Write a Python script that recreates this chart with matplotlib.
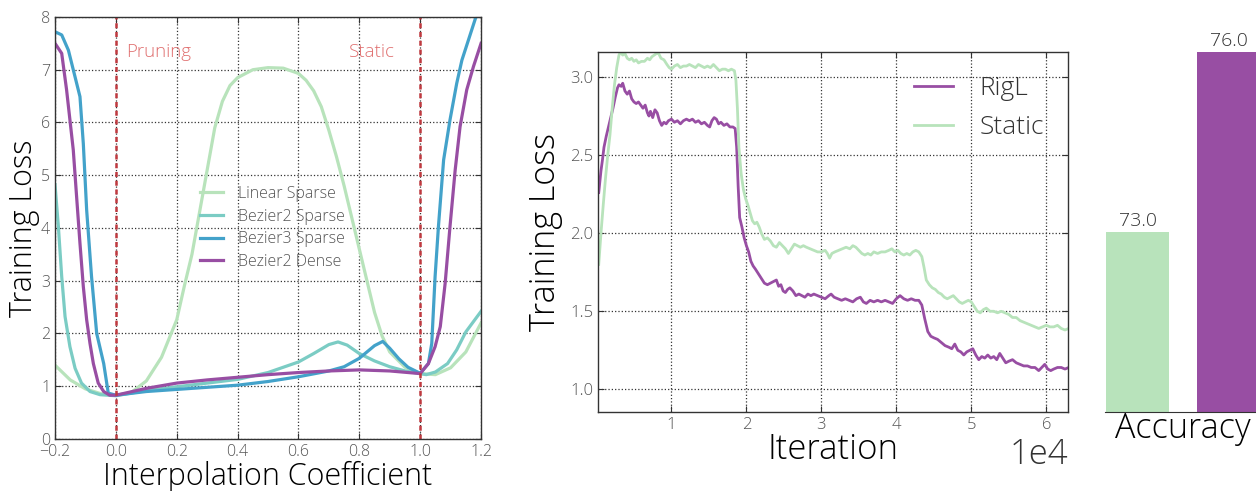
import matplotlib as mpl
mpl.use('Agg')
import matplotlib.pyplot as plt
import numpy as np

# ---- left panel: loss along interpolation paths ----
lin_x = [-0.2, -0.15, -0.1, -0.05, 0.0, 0.05, 0.1, 0.15, 0.2, 0.225, 0.25, 0.275, 0.3, 0.325, 0.35, 0.375, 0.4,
         0.45, 0.5, 0.55, 0.6, 0.625, 0.65, 0.675, 0.7, 0.725, 0.75, 0.775, 0.8, 0.825, 0.85, 0.875, 0.9, 0.95,
         1.0, 1.05, 1.1, 1.15, 1.2]
lin_y = [1.40, 1.12, 0.95, 0.86, 0.83, 0.88, 1.10, 1.55, 2.26, 2.9, 3.5, 4.3, 5.1, 5.9, 6.4, 6.7, 6.85,
         7.0, 7.04, 7.03, 6.93, 6.8, 6.6, 6.3, 5.85, 5.35, 4.8, 4.2, 3.6, 3.0, 2.4, 1.95, 1.65, 1.36,
         1.24, 1.22, 1.35, 1.65, 2.2]

bz2_x = [-0.2, -0.189, -0.178, -0.167, -0.151, -0.134, -0.113, -0.085, -0.052, 0.0, 0.1, 0.2, 0.3, 0.4, 0.5,
         0.6, 0.65, 0.7, 0.73, 0.76, 0.8, 0.85, 0.9, 0.95, 1.0, 1.02, 1.05, 1.09, 1.12, 1.15, 1.2]
bz2_y = [4.82, 4.03, 3.08, 2.32, 1.75, 1.34, 1.06, 0.90, 0.84, 0.82, 0.92, 0.99, 1.06, 1.13, 1.26,
         1.46, 1.62, 1.79, 1.84, 1.78, 1.62, 1.48, 1.37, 1.29, 1.24, 1.22, 1.27, 1.43, 1.69, 2.03, 2.42]

bz3_x = [-0.2, -0.178, -0.156, -0.14, -0.118, -0.107, -0.096, -0.08, -0.063, -0.04, -0.025, 0.0, 0.1, 0.2,
         0.3, 0.4, 0.5, 0.6, 0.7, 0.75, 0.8, 0.85, 0.877, 0.9, 0.93, 0.96, 1.0, 1.027, 1.038, 1.049, 1.06,
         1.077, 1.098, 1.12, 1.137, 1.164, 1.2]
bz3_y = [7.72, 7.66, 7.37, 7.0, 6.49, 5.6, 4.34, 3.08, 2.0, 1.43, 0.87, 0.83, 0.90, 0.94,
         0.98, 1.02, 1.09, 1.18, 1.29, 1.37, 1.53, 1.77, 1.85, 1.72, 1.52, 1.36, 1.245, 1.43, 1.81, 3.08, 4.03,
         5.29, 6.05, 6.74, 7.18, 7.66, 8.3]

dense_x = [-0.2, -0.178, -0.162, -0.151, -0.14, -0.129, -0.118, -0.107, -0.096, -0.085, -0.074, -0.058, -0.04,
           -0.02, 0.0, 0.1, 0.2, 0.3, 0.4, 0.5, 0.6, 0.7, 0.8, 0.9, 1.0, 1.027, 1.049, 1.066, 1.082, 1.098,
           1.115, 1.131, 1.153, 1.175, 1.2]
dense_y = [7.5, 7.31, 6.62, 6.05, 5.48, 4.59, 3.71, 2.89, 2.26, 1.81, 1.43, 1.06, 0.90,
           0.83, 0.83, 0.96, 1.06, 1.12, 1.17, 1.22, 1.26, 1.29, 1.31, 1.29, 1.24, 1.43, 1.75, 2.13, 2.95, 4.03,
           5.10, 5.92, 6.62, 7.06, 7.5]

# ---- middle panel: training loss (x in units of 1e4 iterations) ----
rigl_it = [0.03, 0.06, 0.08, 0.10, 0.13, 0.16, 0.19, 0.22, 0.25, 0.28, 0.30, 0.33, 0.35, 0.38, 0.41, 0.44, 0.47,
           0.50, 0.53, 0.56, 0.59, 0.62, 0.65, 0.68, 0.70, 0.72, 0.75, 0.78, 0.81, 0.84, 0.87, 0.90, 0.93, 0.96,
           1.00, 1.04, 1.08, 1.12, 1.16, 1.20, 1.24, 1.28, 1.32, 1.36, 1.40, 1.44, 1.48, 1.51, 1.54, 1.57, 1.60,
           1.63, 1.66, 1.70, 1.74, 1.78, 1.82, 1.85, 1.87, 1.89, 1.91, 1.94, 1.97, 2.00, 2.03, 2.06, 2.09, 2.12,
           2.16, 2.20, 2.24, 2.28, 2.32, 2.36, 2.40, 2.43, 2.46, 2.49, 2.52, 2.55, 2.58, 2.62, 2.66, 2.70, 2.74,
           2.78, 2.82, 2.86, 2.90, 2.95, 3.00, 3.05, 3.10, 3.13, 3.17, 3.22, 3.27, 3.32, 3.37, 3.42, 3.47, 3.52,
           3.56, 3.60, 3.65, 3.70, 3.75, 3.80, 3.85, 3.90, 3.95, 4.00, 4.05, 4.10, 4.15, 4.20, 4.25, 4.30, 4.34,
           4.38, 4.42, 4.46, 4.50, 4.55, 4.60, 4.65, 4.70, 4.74, 4.78, 4.82, 4.86, 4.90, 4.94, 4.98, 5.02, 5.06,
           5.10, 5.14, 5.18, 5.22, 5.26, 5.30, 5.34, 5.38, 5.42, 5.46, 5.50, 5.55, 5.60, 5.65, 5.70, 5.75, 5.80,
           5.85, 5.90, 5.94, 5.98, 6.02, 6.06, 6.10, 6.15, 6.20, 6.25, 6.30]
rigl_loss = [2.26, 2.40, 2.47, 2.55, 2.62, 2.68, 2.74, 2.80, 2.87, 2.93, 2.95, 2.94, 2.96, 2.91, 2.89, 2.91, 2.86,
             2.84, 2.83, 2.84, 2.82, 2.80, 2.82, 2.77, 2.75, 2.78, 2.74, 2.79, 2.77, 2.72, 2.69, 2.71, 2.70, 2.72,
             2.73, 2.71, 2.72, 2.70, 2.72, 2.73, 2.72, 2.73, 2.71, 2.72, 2.70, 2.71, 2.69, 2.68, 2.72, 2.74, 2.73,
             2.70, 2.71, 2.69, 2.70, 2.68, 2.68, 2.67, 2.55, 2.30, 2.10, 2.04, 1.97, 1.92, 1.88, 1.82, 1.79, 1.77,
             1.74, 1.71, 1.68, 1.67, 1.68, 1.69, 1.70, 1.66, 1.67, 1.63, 1.62, 1.64, 1.65, 1.63, 1.60, 1.61, 1.60,
             1.59, 1.61, 1.60, 1.61, 1.60, 1.59, 1.58, 1.60, 1.61, 1.59, 1.58, 1.57, 1.58, 1.57, 1.56, 1.58, 1.59,
             1.56, 1.55, 1.57, 1.56, 1.57, 1.56, 1.57, 1.56, 1.55, 1.58, 1.60, 1.58, 1.57, 1.58, 1.57, 1.57, 1.54,
             1.45, 1.37, 1.34, 1.33, 1.32, 1.30, 1.28, 1.27, 1.26, 1.29, 1.25, 1.24, 1.22, 1.24, 1.25, 1.26, 1.22,
             1.19, 1.21, 1.20, 1.22, 1.20, 1.21, 1.19, 1.23, 1.20, 1.17, 1.18, 1.19, 1.17, 1.16, 1.15, 1.15, 1.14,
             1.14, 1.12, 1.14, 1.16, 1.13, 1.12, 1.13, 1.14, 1.14, 1.13, 1.14]

static_it = [0.03, 0.06, 0.09, 0.12, 0.15, 0.18, 0.21, 0.24, 0.27, 0.30, 0.32, 0.35, 0.38, 0.41, 0.44, 0.47, 0.50,
             0.53, 0.56, 0.60, 0.64, 0.68, 0.71, 0.74, 0.77, 0.80, 0.83, 0.86, 0.90, 0.94, 0.97, 1.00, 1.04, 1.08,
             1.12, 1.16, 1.20, 1.24, 1.28, 1.32, 1.36, 1.40, 1.44, 1.48, 1.52, 1.56, 1.60, 1.64, 1.68, 1.72, 1.76,
             1.80, 1.84, 1.86, 1.88, 1.90, 1.93, 1.96, 1.99, 2.02, 2.05, 2.08, 2.11, 2.14, 2.17, 2.20, 2.24, 2.28,
             2.32, 2.36, 2.40, 2.44, 2.48, 2.52, 2.56, 2.60, 2.64, 2.68, 2.72, 2.76, 2.80, 2.85, 2.90, 2.95, 3.00,
             3.05, 3.08, 3.11, 3.14, 3.18, 3.23, 3.28, 3.33, 3.38, 3.42, 3.46, 3.50, 3.54, 3.58, 3.62, 3.66, 3.70,
             3.75, 3.80, 3.85, 3.90, 3.94, 3.98, 4.02, 4.06, 4.10, 4.14, 4.18, 4.22, 4.26, 4.30, 4.34, 4.37, 4.40,
             4.44, 4.48, 4.52, 4.56, 4.60, 4.64, 4.68, 4.72, 4.76, 4.80, 4.84, 4.88, 4.92, 4.96, 5.00, 5.04, 5.08,
             5.12, 5.16, 5.20, 5.25, 5.30, 5.35, 5.40, 5.45, 5.50, 5.55, 5.60, 5.65, 5.70, 5.75, 5.80, 5.85, 5.90,
             5.95, 6.00, 6.05, 6.10, 6.15, 6.20, 6.25, 6.30]
static_loss = [1.80, 2.00, 2.18, 2.35, 2.50, 2.63, 2.80, 2.95, 3.06, 3.14, 3.16, 3.14, 3.15, 3.12, 3.11, 3.12, 3.10,
               3.11, 3.09, 3.10, 3.10, 3.12, 3.11, 3.13, 3.14, 3.15, 3.15, 3.12, 3.11, 3.08, 3.06, 3.05, 3.07, 3.08,
               3.06, 3.07, 3.07, 3.08, 3.07, 3.06, 3.08, 3.07, 3.06, 3.07, 3.06, 3.08, 3.06, 3.04, 3.05, 3.05, 3.04,
               3.05, 3.04, 2.98, 2.80, 2.55, 2.38, 2.28, 2.22, 2.18, 2.13, 2.08, 2.06, 2.07, 2.04, 2.00, 1.96, 1.97,
               1.95, 1.92, 1.91, 1.94, 1.92, 1.90, 1.87, 1.90, 1.93, 1.92, 1.91, 1.92, 1.91, 1.90, 1.89, 1.88, 1.88,
               1.89, 1.87, 1.84, 1.87, 1.88, 1.89, 1.90, 1.91, 1.90, 1.92, 1.91, 1.89, 1.87, 1.86, 1.87, 1.86, 1.88,
               1.87, 1.88, 1.88, 1.89, 1.90, 1.88, 1.89, 1.87, 1.86, 1.87, 1.86, 1.88, 1.89, 1.88, 1.85, 1.78, 1.70,
               1.67, 1.65, 1.64, 1.62, 1.61, 1.59, 1.58, 1.59, 1.60, 1.58, 1.56, 1.55, 1.56, 1.57, 1.56, 1.53, 1.50,
               1.49, 1.51, 1.52, 1.50, 1.50, 1.49, 1.50, 1.49, 1.48, 1.46, 1.46, 1.44, 1.43, 1.42, 1.41, 1.40, 1.39,
               1.40, 1.41, 1.40, 1.40, 1.41, 1.39, 1.38, 1.39]

# ---- right panel: accuracy ----
acc_names = ['Static', 'RigL']
acc_values = [73.0, 76.0]

C_LIN = '#b8e3bb'
C_BZ2 = '#7bccc4'
C_BZ3 = '#43a2ca'
C_PUR = '#984ea3'
C_RED = '#c0393f'

plt.rcParams['font.family'] = ['Open Sans', 'DejaVu Sans']
plt.rcParams['font.weight'] = 'light'
plt.rcParams['axes.labelweight'] = 'light'

fig = plt.figure(figsize=(12.56, 4.91), dpi=100)


def style_ax(ax, lsize):
    ax.tick_params(which='major', direction='in', top=True, right=True, length=4,
                   labelsize=lsize, labelcolor='#555555', color='#333333')
    ax.grid(True, linestyle=':', color='#333333', linewidth=0.9)
    for s in ax.spines.values():
        s.set_color('#333333')
        s.set_linewidth(1.0)


# 左のグラフ
ax1 = fig.add_axes([0.0438, 0.1059, 0.3392, 0.8595])
style_ax(ax1, 11.5)
ax1.plot(lin_x, lin_y, color=C_LIN, lw=2.3, label='Linear Sparse')
ax1.plot(bz2_x, bz2_y, color=C_BZ2, lw=2.3, label='Bezier2 Sparse')
ax1.plot(bz3_x, bz3_y, color=C_BZ3, lw=2.3, label='Bezier3 Sparse')
ax1.plot(dense_x, dense_y, color=C_PUR, lw=2.3, label='Bezier2 Dense')
ax1.axvline(0.0, color=C_RED, ls='--', lw=1.8, dashes=(2, 1.5))
ax1.axvline(1.0, color=C_RED, ls='--', lw=1.8, dashes=(2, 1.5))
ax1.text(0.033, 7.34, 'Pruning', color='#e07070', fontsize=13.5, va='center')
ax1.text(0.766, 7.34, 'Static', color='#e07070', fontsize=13.5, va='center', ha='left')
ax1.set_xlim(-0.2, 1.2)
ax1.set_ylim(0, 8)
ax1.set_xticks([-0.2, 0.0, 0.2, 0.4, 0.6, 0.8, 1.0, 1.2])
ax1.set_xlabel('Interpolation Coefficient', fontsize=22, labelpad=1)
ax1.set_ylabel('Training Loss', fontsize=22, labelpad=1)
leg1 = ax1.legend(loc='center', bbox_to_anchor=(0.51, 0.5), frameon=False, fontsize=11.5,
                  handlelength=1.45, handletextpad=0.9, labelspacing=0.42)
for t in leg1.get_texts():
    t.set_color('#555555')

# 真ん中のグラフ
ax2 = fig.add_axes([0.4761, 0.1609, 0.3742, 0.7332])
style_ax(ax2, 12)
ax2.plot(np.array(rigl_it) * 1e4, rigl_loss, color=C_PUR, lw=2.0, label='RigL')
ax2.plot(np.array(static_it) * 1e4, static_loss, color=C_LIN, lw=2.0, label='Static')
ax2.set_xlim(200, 62900)
ax2.set_ylim(0.855, 3.16)
ax2.set_yticks([1.0, 1.5, 2.0, 2.5, 3.0])
ax2.ticklabel_format(axis='x', style='sci', scilimits=(0, 0))
ax2.xaxis.get_offset_text().set_fontsize(25)
ax2.xaxis.get_offset_text().set_color('#333333')
ax2.set_xlabel('Iteration', fontsize=25, labelpad=0)
ax2.set_ylabel('Training Loss', fontsize=24.5, labelpad=5)
leg2 = ax2.legend(loc='upper right', frameon=False, fontsize=19, handlelength=1.5,
                  handletextpad=1.0, labelspacing=0.55, borderaxespad=0.5)
for t in leg2.get_texts():
    t.set_color('#333333')

# 右の棒グラフ
ax3 = fig.add_axes([0.8798, 0.1609, 0.1242, 0.7332])
bars = ax3.bar(range(len(acc_values)), acc_values, width=0.69, color=[C_LIN, C_PUR])
ax3.set_xlim(-0.357, 1.357)
ax3.set_ylim(70, 76)
for b, v in zip(bars, acc_values):
    ax3.text(b.get_x() + b.get_width() / 2, v + 0.04, '%.1f' % v, ha='center', va='bottom',
             fontsize=14, color='#333333')
for s in ['left', 'right', 'top']:
    ax3.spines[s].set_visible(False)
ax3.spines['bottom'].set_color('#333333')
ax3.set_yticks([])
ax3.set_xticks([])
ax3.set_xlabel('Accuracy', fontsize=24.5, labelpad=0)

plt.savefig('out.png', dpi=100)
